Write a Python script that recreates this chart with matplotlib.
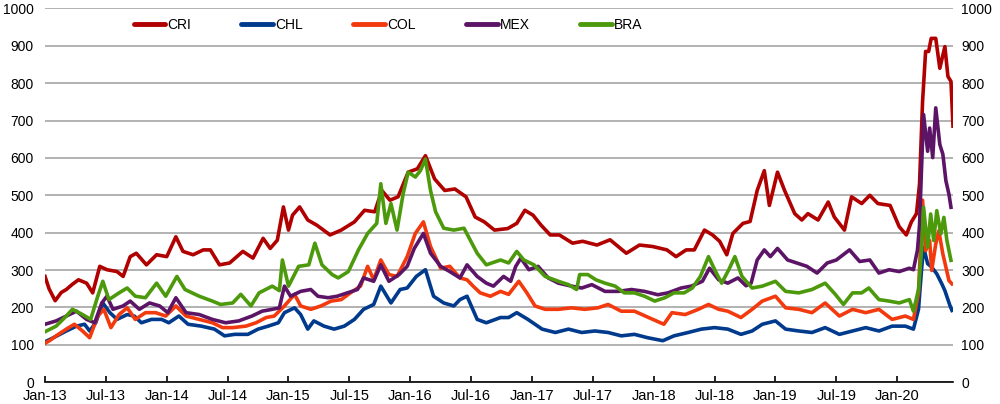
import numpy as np
import matplotlib
matplotlib.use("Agg")
import matplotlib.pyplot as plt

# spreads, months since Jan-2013
cri_m = [0.0, 0.4, 1.0, 1.6, 2.1, 2.7, 3.3, 4.1, 4.7, 5.4, 6.1, 7.1, 7.7, 8.4, 9.0, 10.0, 11.0, 12.0,
         12.9, 13.6, 14.6, 15.6, 16.3, 17.2, 18.2, 19.5, 20.5, 21.5, 22.2, 22.9, 23.5, 24.0, 24.4, 25.1,
         25.9, 26.8, 28.1, 29.2, 30.5, 31.5, 32.5, 33.2, 34.0, 34.8, 35.8, 36.7, 37.5, 38.4, 39.4, 40.4,
         41.5, 42.4, 43.3, 44.3, 45.6, 46.5, 47.3, 48.1, 48.9, 49.8, 50.7, 52.0, 53.0, 54.4, 55.7, 57.3,
         58.6, 59.9, 61.3, 62.2, 63.2, 64.0, 65.0, 65.8, 66.5, 67.2, 67.8, 68.8, 69.5, 70.2, 70.9, 71.4,
         72.2, 72.9, 73.9, 74.6, 75.2, 76.2, 77.2, 77.8, 78.8, 79.5, 80.5, 81.3, 82.1, 83.3, 84.2, 84.9,
         85.4, 85.9, 86.2, 86.5, 86.8, 87.1, 87.35, 87.8, 88.2, 88.7, 89.0, 89.3, 89.5]
cri = [283, 250, 218, 240, 248, 262, 274, 265, 239, 310, 301, 296, 283, 336, 345, 314, 341, 336,
       389, 350, 341, 354, 354, 314, 319, 350, 332, 385, 358, 380, 469, 407, 447, 469,
       434, 420, 394, 407, 429, 460, 456, 513, 487, 496, 562, 571, 606, 544, 513, 517,
       496, 442, 429, 407, 411, 425, 460, 447, 420, 394, 394, 372, 377, 367, 381, 345,
       367, 363, 354, 336, 354, 354, 407, 394, 377, 341, 398, 425, 430, 513, 566, 473,
       562, 513, 451, 434, 451, 434, 482, 442, 407, 496, 478, 500, 478, 473, 416, 394,
       429, 451, 530, 751, 885, 885, 920, 920, 840, 898, 818, 805, 685]

chl_m = [0.0, 0.9, 2.1, 3.1, 3.9, 4.4, 5.0, 5.7, 6.4, 7.1, 8.1, 8.8, 9.5, 10.5, 11.5, 12.2, 13.2, 14.1,
         15.4, 16.7, 17.7, 18.7, 20.0, 21.0, 22.0, 23.0, 23.6, 24.6, 25.2, 25.9, 26.5, 27.5, 28.5, 29.5,
         30.5, 31.4, 32.4, 33.1, 34.1, 35.0, 35.7, 36.6, 37.5, 38.3, 39.3, 40.3, 40.9, 41.6, 42.6, 43.5,
         44.9, 45.7, 46.5, 47.6, 49.0, 50.3, 51.6, 52.9, 54.2, 55.5, 56.8, 58.1, 59.4, 60.9, 62.0, 63.4,
         64.7, 66.0, 67.3, 68.6, 69.7, 70.7, 72.0, 73.0, 74.3, 75.6, 76.9, 78.3, 79.6, 80.9, 82.2, 83.5,
         84.8, 85.6, 86.1, 86.4, 86.6, 87.0, 87.4, 87.9, 88.4, 88.7, 89.2, 89.4]
chl = [108, 120, 137, 150, 155, 137, 159, 212, 186, 168, 181, 177, 159, 168, 168, 159, 177, 155,
       150, 142, 124, 128, 128, 142, 150, 159, 186, 199, 181, 142, 164, 150, 142, 150,
       168, 195, 208, 257, 212, 248, 252, 283, 301, 230, 212, 204, 221, 230, 168, 159,
       173, 173, 186, 168, 142, 133, 142, 133, 137, 133, 124, 128, 119, 111, 124, 133,
       142, 146, 142, 128, 137, 155, 164, 142, 137, 133, 146, 128, 137, 146, 137, 150,
       150, 142, 195, 301, 361, 317, 308, 290, 263, 245, 205, 192]

col_m = [0.0, 0.5, 1.1, 2.1, 2.9, 3.7, 4.4, 5.2, 5.8, 6.5, 7.3, 8.1, 8.9, 9.9, 10.9, 11.9, 12.9, 13.9,
         15.2, 16.5, 17.5, 18.5, 19.8, 20.8, 21.8, 22.6, 23.6, 24.6, 25.2, 26.2, 27.2, 28.2, 29.2, 30.1,
         31.1, 31.8, 32.4, 33.1, 33.9, 34.7, 35.7, 36.5, 37.3, 38.0, 39.0, 39.9, 40.9, 41.6, 42.2, 42.9,
         43.9, 44.9, 45.7, 46.7, 47.5, 48.3, 49.3, 50.6, 51.9, 53.2, 54.5, 55.5, 56.8, 58.1, 59.5, 61.0,
         61.8, 63.1, 64.4, 65.4, 66.4, 67.3, 68.6, 69.7, 70.7, 72.0, 73.0, 74.3, 75.6, 76.9, 78.3, 79.6,
         80.9, 82.2, 83.5, 84.8, 85.6, 86.1, 86.5, 86.8, 87.2, 87.4, 87.8, 88.1, 88.5, 88.8, 89.1, 89.4]
col = [104, 112, 124, 142, 155, 137, 119, 177, 195, 146, 181, 199, 168, 186, 186, 177, 204, 177,
       168, 159, 146, 146, 150, 159, 173, 177, 204, 235, 204, 195, 204, 217, 221, 239,
       257, 310, 274, 327, 288, 283, 336, 398, 429, 363, 305, 310, 279, 274, 257, 239,
       230, 243, 235, 270, 239, 204, 195, 195, 199, 195, 199, 208, 190, 190, 173, 155,
       186, 181, 195, 208, 195, 190, 173, 195, 217, 230, 199, 195, 186, 212, 177, 195,
       186, 195, 168, 177, 168, 239, 487, 352, 379, 299, 370, 405, 343, 308, 272, 263]

mex_m = [0.0, 1.1, 2.1, 3.1, 4.1, 4.9, 5.6, 6.1, 6.7, 7.7, 8.4, 9.3, 10.3, 11.3, 12.1, 12.9, 13.9, 15.2,
         16.5, 17.8, 19.1, 20.4, 21.4, 22.4, 23.1, 23.6, 24.2, 25.2, 26.2, 26.9, 27.9, 28.8, 29.8, 30.8,
         31.4, 32.4, 33.1, 33.9, 34.9, 35.7, 36.4, 37.3, 38.0, 39.0, 39.9, 40.9, 41.6, 42.6, 43.5, 44.2,
         45.2, 45.9, 46.4, 46.9, 47.7, 48.6, 49.6, 50.6, 51.9, 52.9, 53.9, 55.2, 56.5, 57.8, 59.1, 60.4,
         61.4, 62.7, 63.7, 64.8, 65.5, 66.4, 67.3, 68.3, 69.1, 69.6, 70.2, 70.9, 71.5, 72.2, 73.2, 74.1,
         75.1, 76.1, 77.1, 78.0, 79.3, 80.3, 81.3, 82.2, 83.2, 84.2, 85.2, 85.6, 86.0, 86.2, 86.4, 86.6,
         87.0, 87.2, 87.5, 87.8, 88.2, 88.5, 88.8, 89.1, 89.3]
mex = [155, 164, 177, 190, 168, 159, 212, 230, 195, 204, 217, 195, 212, 204, 186, 226, 186, 181,
       168, 159, 164, 177, 190, 195, 199, 257, 230, 243, 248, 230, 226, 230, 239, 248,
       279, 270, 314, 270, 288, 310, 358, 398, 345, 310, 296, 279, 314, 283, 265, 257,
       283, 270, 310, 332, 301, 310, 279, 265, 257, 252, 261, 243, 243, 248, 243, 234,
       239, 252, 257, 270, 305, 274, 265, 279, 258, 265, 327, 354, 336, 358, 327, 319,
       310, 292, 319, 327, 354, 323, 327, 292, 301, 296, 305, 301, 354, 420, 574, 716,
       618, 680, 601, 734, 636, 610, 539, 503, 468]

bra_m = [0.0, 1.1, 2.1, 2.7, 3.7, 4.5, 5.2, 5.7, 6.3, 7.3, 8.1, 8.9, 9.9, 11.0, 11.9, 13.0, 13.8, 15.2,
         16.5, 17.3, 18.5, 19.3, 20.3, 21.1, 22.4, 23.1, 23.4, 24.0, 25.0, 26.0, 26.6, 27.3, 28.3, 28.9,
         29.9, 30.9, 31.8, 32.7, 33.1, 33.6, 34.1, 34.7, 35.3, 35.8, 36.5, 37.0, 37.5, 38.0, 38.5, 39.3,
         40.3, 41.3, 41.9, 42.6, 43.5, 44.9, 45.7, 46.5, 47.2, 48.2, 49.3, 50.6, 51.6, 52.4, 52.7, 53.5,
         54.3, 55.2, 56.2, 57.1, 58.1, 59.1, 60.1, 61.1, 62.0, 63.0, 63.8, 64.6, 65.4, 66.1, 66.7, 67.4,
         68.0, 68.7, 69.7, 70.7, 72.0, 73.0, 74.3, 75.6, 76.9, 77.9, 78.7, 79.6, 80.5, 81.2, 82.2, 83.2,
         84.2, 85.2, 85.6, 86.1, 86.4, 86.6, 87.0, 87.3, 87.6, 87.9, 88.3, 88.6, 88.9, 89.3]
bra = [135, 150, 177, 195, 181, 168, 230, 270, 221, 239, 252, 230, 226, 265, 230, 283, 248, 230,
       217, 208, 212, 235, 204, 239, 257, 245, 327, 257, 310, 314, 372, 314, 288, 279,
       296, 354, 398, 425, 531, 425, 478, 407, 504, 562, 549, 566, 597, 513, 456, 412,
       407, 412, 381, 345, 314, 327, 319, 350, 327, 314, 283, 270, 261, 248, 288, 288,
       274, 265, 257, 239, 239, 230, 217, 226, 239, 239, 252, 283, 336, 296, 265, 301,
       336, 283, 252, 257, 270, 243, 239, 248, 265, 235, 208, 239, 239, 252, 221, 217,
       212, 221, 190, 248, 354, 468, 361, 450, 379, 459, 397, 441, 379, 326]

tick_pos = list(range(0, 85, 6))
tick_lab = ["Jan-13", "Jul-13", "Jan-14", "Jul-14", "Jan-15", "Jul-15", "Jan-16", "Jul-16",
            "Jan-17", "Jul-17", "Jan-18", "Jul-18", "Jan-19", "Jul-19", "Jan-20"]

plt.rcParams['font.family'] = ['Liberation Sans', 'DejaVu Sans']
plt.rcParams['font.size'] = 10

fig = plt.figure(figsize=(10, 4.04), dpi=100)
ax = fig.add_axes([0.045, 0.054, 0.908, 0.925])

series = [("CRI", cri_m, cri, "#B00000"),
          ("CHL", chl_m, chl, "#003A8C"),
          ("COL", col_m, col, "#F23A0E"),
          ("MEX", mex_m, mex, "#5C1566"),
          ("BRA", bra_m, bra, "#4C9A0C")]
for name, m, v, c in series:
    ax.plot(m, v, color=c, lw=2.6, label=name, solid_joinstyle='round')

ax.set_xlim(0, 89.5)
ax.set_ylim(0, 1000)
ax.set_yticks(np.arange(0, 1001, 100))
ax.set_xticks(tick_pos)
ax.set_xticklabels(tick_lab, fontsize=10.5)
ax.grid(axis='y', color='#a6a6a6', lw=1.2)
ax.set_axisbelow(True)
for s in ['left', 'right', 'top']:
    ax.spines[s].set_visible(False)
ax.spines['bottom'].set_linewidth(1.2)
ax.tick_params(axis='x', direction='in', length=4, width=1.2, pad=5)
ax.tick_params(axis='y', length=0, pad=8, labelsize=10)

ax2 = ax.twinx()
ax2.set_ylim(0, 1000)
ax2.set_yticks(np.arange(0, 1001, 100))
for s in ['left', 'right', 'top', 'bottom']:
    ax2.spines[s].set_visible(False)
ax2.tick_params(axis='y', length=0, pad=6, labelsize=10)

leg = ax.legend(loc='center left', bbox_to_anchor=(0.121, 0.938), bbox_transform=fig.transFigure,
                ncol=5, frameon=False, handlelength=2.3, handletextpad=0.15, columnspacing=3.6,
                fontsize=10)
for line in leg.get_lines():
    line.set_linewidth(3.5)
    line.set_solid_capstyle('round')

fig.savefig("out.png", dpi=100)
